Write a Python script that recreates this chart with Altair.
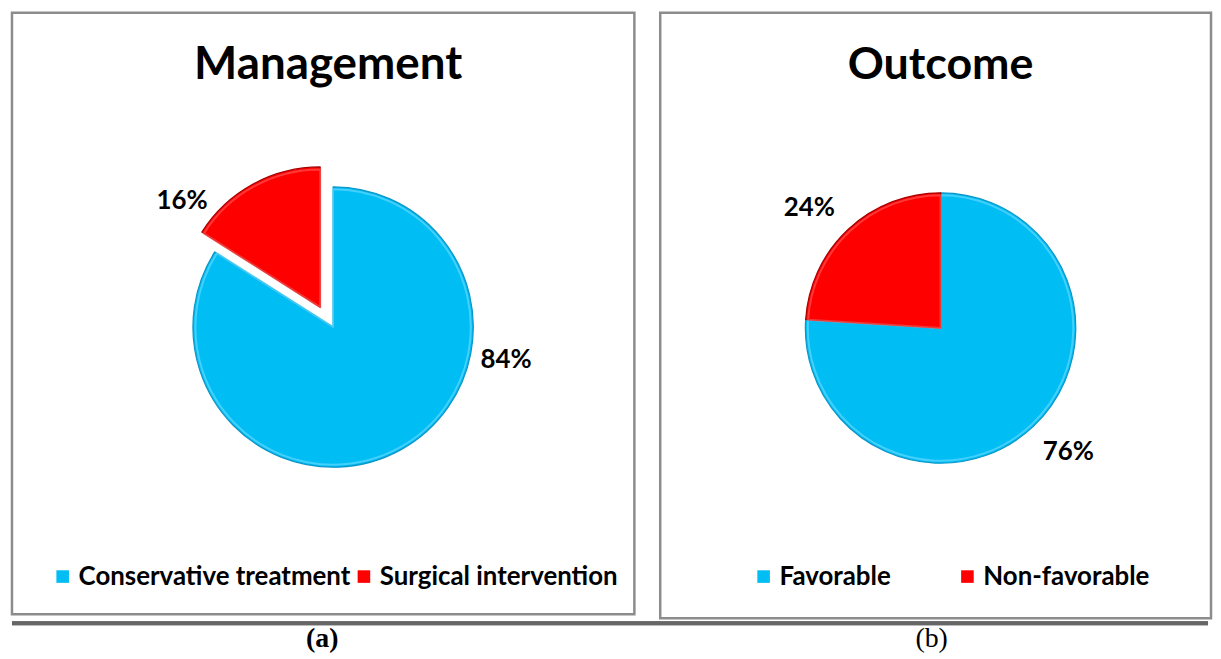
import altair as alt
import pandas as pd

# ---- data ----
mgmt_title = "Management"
mgmt_cats = ["Conservative treatment", "Surgical intervention"]
mgmt_vals = [84, 16]
mgmt_labels = ["84%", "16%"]

outc_title = "Outcome"
outc_cats = ["Favorable", "Non-favorable"]
outc_vals = [76, 24]
outc_labels = ["76%", "24%"]

sub_labels = ["(a)", "(b)"]

BLUE = "#00bdf4"
BLUE_EDGE = "#0a96c8"
BLUE_RIM = "#5fd8ff"
RED = "#ff0000"
RED_EDGE = "#a80000"
RED_RIM = "#ff5050"
FONT = "Lato"


def panel(title, cats, vals, labels, w, h, cx, cy, r, explode, label_geo,
          title_x, title_size, legend_x, legend_y, col_pad):
    df = pd.DataFrame({"cat": cats, "val": vals, "lab": labels,
                       "order": list(range(len(cats)))})
    base = (
        alt.Chart(df)
        .transform_window(cum="sum(val)", sort=[alt.SortField("order")])
        .transform_calculate(start="datum.cum - datum.val",
                             mid="datum.cum - datum.val / 2")
    )
    tscale = alt.Scale(domain=[0, 100])
    fills = [BLUE, RED]
    edges = [BLUE_EDGE, RED_EDGE]
    rims = [BLUE_RIM, RED_RIM]
    layers = []
    for i, cat in enumerate(cats):
        dx, dy = explode[i]
        leg = alt.Legend(
            orient="none", legendX=legend_x, legendY=legend_y,
            direction="horizontal", title=None, symbolType="square",
            symbolSize=160, symbolStrokeWidth=0, labelFont=FONT,
            labelFontSize=26, labelFontWeight="bold", labelColor="#000000",
            labelOffset=3, columnPadding=col_pad, padding=0, labelLimit=400,
        ) if i == 0 else None
        sub = base.transform_filter(alt.datum.cat == cat)
        arc = (
            sub.mark_arc(outerRadius=r, stroke=edges[i], strokeWidth=1.2,
                         strokeJoin="round")
            .encode(
                theta=alt.Theta("start:Q", scale=tscale),
                theta2="cum:Q",
                color=alt.Color("cat:N",
                                scale=alt.Scale(domain=cats, range=fills),
                                legend=leg),
                x=alt.value(cx + dx),
                y=alt.value(cy + dy),
            )
        )
        rim = (
            sub.mark_arc(outerRadius=r - 2.5, filled=False, stroke=rims[i],
                         strokeWidth=2, strokeOpacity=0.7,
                         strokeJoin="round")
            .encode(
                theta=alt.Theta("start:Q", scale=tscale),
                theta2="cum:Q",
                x=alt.value(cx + dx),
                y=alt.value(cy + dy),
            )
        )
        layers += [arc, rim]
    for i, cat in enumerate(cats):
        off, rad = label_geo[i]
        txt = (
            base.transform_filter(alt.datum.cat == cat)
            .mark_text(font=FONT, fontSize=26, fontWeight="bold",
                       color="#000000", align="center", baseline="middle",
                       radius=rad, thetaOffset=off)
            .encode(
                theta=alt.Theta("mid:Q", scale=tscale, stack=False),
                text="lab:N",
                x=alt.value(cx),
                y=alt.value(cy),
            )
        )
        layers.append(txt)
    ttl = (
        alt.Chart(pd.DataFrame({"t": [title]}))
        .mark_text(font=FONT, fontSize=title_size, fontWeight="bold",
                   color="#000000", align="center", baseline="middle")
        .encode(text="t:N", x=alt.value(title_x), y=alt.value(53))
    )
    layers.append(ttl)
    return alt.layer(*layers).properties(
        width=w, height=h,
        view=alt.ViewBackground(stroke="#8c8c8c", strokeWidth=2.5),
    )


left = panel(mgmt_title, mgmt_cats, mgmt_vals, mgmt_labels,
             626, 605, 323, 316, 141,
             [(0, 0), (-13, -20)],
             [(-0.881, 177), (-0.372, 198)],
             318, 46, 38, 554, 0)
right = panel(outc_title, outc_cats, outc_vals, outc_labels,
              554, 609, 282, 317, 136,
              [(0, 0), (0, 0)],
              [(-0.047, 179), (-0.075, 179)],
              282, 45, 91, 554, 64)

top = alt.hconcat(left, right, spacing=22).resolve_scale(
    color="independent", theta="independent")

sub_df = pd.DataFrame({"s": sub_labels})
rule = alt.Chart(sub_df).mark_rule(color="#666666", strokeWidth=4).encode(
    x=alt.value(0), x2=alt.value(1203), y=alt.value(3))
sa = (alt.Chart(sub_df).transform_filter(alt.datum.s == sub_labels[0])
      .mark_text(font="Liberation Serif", fontSize=28, fontWeight="bold",
                 color="#000000", align="center", baseline="middle")
      .encode(text="s:N", x=alt.value(312), y=alt.value(19)))
sb = (alt.Chart(sub_df).transform_filter(alt.datum.s == sub_labels[1])
      .mark_text(font="Liberation Serif", fontSize=28, fontWeight="normal",
                 color="#000000", align="center", baseline="middle")
      .encode(text="s:N", x=alt.value(925), y=alt.value(19)))
bottom = alt.layer(rule, sa, sb).properties(
    width=1202, height=25,
    view=alt.ViewBackground(stroke="transparent", strokeWidth=0),
)

chart = (
    alt.vconcat(top, bottom, spacing=0)
    .properties(padding={"left": 2, "top": 1, "right": 0, "bottom": 0})
    .configure_view(strokeWidth=0)
    .configure(background="white")
)

chart.save("out.html", embed_options={"renderer": "svg", "actions": False})
